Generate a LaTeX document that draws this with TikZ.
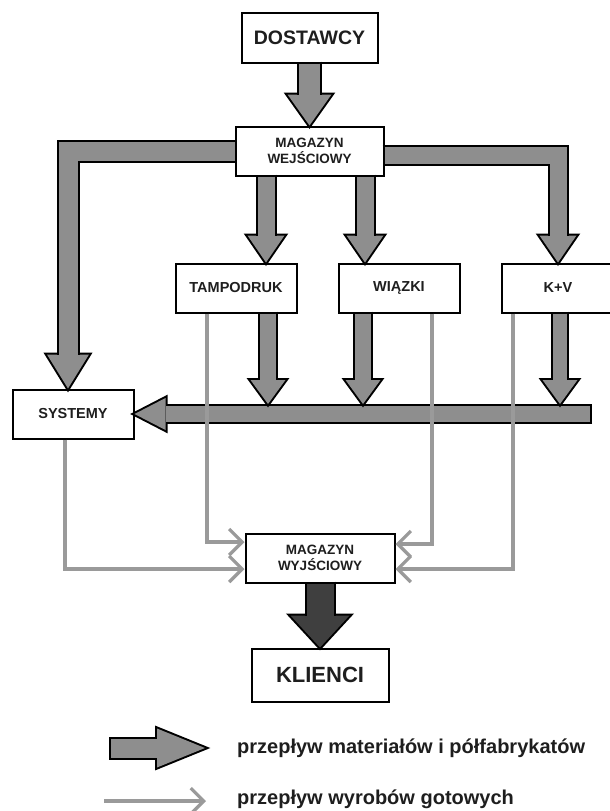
\documentclass[tikz,border=0pt]{standalone}
\usepackage{fontspec}
\setmainfont{Liberation Sans}
\usetikzlibrary{arrows.meta,positioning}

\definecolor{flowgray}{HTML}{8E8E8E}
\definecolor{flowdark}{HTML}{3F3F3F}
\definecolor{prodgray}{HTML}{9A9A9A}
\definecolor{inkgray}{HTML}{1E1E1E}

% heads of the block arrows: tip, half width, length
\newcommand{\headS}[4][mathead]{\path[#1] #2 -- ++(-#3,-#4) -- ++(2*#3,0) -- cycle;}
\newcommand{\headW}[4][mathead]{\path[#1] #2 -- ++(#4,-#3) -- ++(0,2*#3) -- cycle;}
\newcommand{\headE}[4][mathead]{\path[#1] #2 -- ++(-#4,-#3) -- ++(0,2*#3) -- cycle;}

\tikzset{
  box/.style={draw=black, line width=2pt, fill=white, inner sep=0pt, text=inkgray, align=center},
  bigbox/.style={box, font=\bfseries\fontsize{19.5}{22}\selectfont},
  smallbox/.style={box, font=\bfseries\fontsize{14.5}{16}\selectfont},
  storebox/.style={box, font=\bfseries\fontsize{13.5}{15.5}\selectfont},
  legtext/.style={inner sep=0pt, text=inkgray, font=\bfseries\fontsize{20}{24}\selectfont},
  matshaft/.style={draw=flowgray, line width=#1, line join=miter,
    preaction={draw=black, line width=#1+4pt, line join=miter, shorten <=-2pt}},
  matshaft/.default=17pt,
  darkshaft/.style={draw=flowdark, line width=#1, line join=miter,
    preaction={draw=black, line width=#1+4pt, line join=miter, shorten <=-2pt}},
  mathead/.style={fill=flowgray, preaction={draw=black, line width=4pt, line join=miter}},
  darkhead/.style={fill=flowdark, preaction={draw=black, line width=4pt, line join=miter}},
  prodflow/.style={draw=prodgray, line width=3.2pt, -{Straight Barb[length=13pt,width=26pt]}}
}

\begin{document}
\begin{tikzpicture}[x=1pt, y=-1pt]
  \useasboundingbox (0,0) rectangle (610,811);

  \node[bigbox, minimum width=136pt, minimum height=50pt] (dost) at (309.5,37.5) {DOSTAWCY};
  \node[storebox, minimum width=148pt, minimum height=49pt] (magwej) at (309.5,151) {MAGAZYN\\WEJŚCIOWY};
  \node[smallbox, minimum width=121pt, minimum height=49pt] (tampo) at (236,288) {TAMPODRUK};
  \node[smallbox, minimum width=121pt, minimum height=49pt] (wiazki) [right=40pt of tampo] {WIĄZKI};
  \node[smallbox, minimum width=113pt, minimum height=49pt] (kv) [right=40pt of wiazki] {K+V};
  \node[smallbox, minimum width=121pt, minimum height=49pt] (syst) at (73,414) {SYSTEMY};
  \node[storebox, minimum width=149pt, minimum height=49pt] (magwyj) at (320,558) {MAGAZYN\\WYJŚCIOWY};
  \node[bigbox, minimum width=137pt, minimum height=53pt, font=\bfseries\fontsize{22}{24}\selectfont] (klienci) at (320,675) {KLIENCI};

  \coordinate (bandend) at (590,414);
  \coordinate (bandtop) at (590,404);

  % materials
  \headS{(magwej.north)}{22}{31}
  \draw[matshaft=21pt] (dost.south) -- ([yshift=31pt]magwej.north);

  \headS{([xshift=30pt]tampo.north)}{18.5}{27}
  \draw[matshaft] ([xshift=30pt]tampo.north |- magwej.south) -- ([xshift=30pt,yshift=27pt]tampo.north);
  \headS{([xshift=-34pt]wiazki.north)}{18.5}{27}
  \draw[matshaft] ([xshift=-34pt]wiazki.north |- magwej.south) -- ([xshift=-34pt,yshift=27pt]wiazki.north);
  \headS{(kv.north)}{18.5}{27}
  \draw[matshaft] ([yshift=-4.5pt]magwej.east) -| ([yshift=27pt]kv.north);
  \headS{([xshift=-5pt]syst.north)}{21}{34}
  \draw[matshaft=19pt] (magwej.west) -| ([xshift=-5pt,yshift=34pt]syst.north);

  \headW{(syst.east)}{16}{31}
  \draw[matshaft=16pt] (bandend) -- ([xshift=31pt]syst.east);
  \headS{([xshift=32pt]tampo.south |- bandtop)}{17.5}{24}
  \draw[matshaft=16pt] ([xshift=32pt]tampo.south) -- ([xshift=32pt,yshift=24pt]tampo.south |- bandtop);
  \headS{([xshift=-36pt]wiazki.south |- bandtop)}{17.5}{24}
  \draw[matshaft=16pt] ([xshift=-36pt]wiazki.south) -- ([xshift=-36pt,yshift=24pt]wiazki.south |- bandtop);
  \headS{([xshift=2pt]kv.south |- bandtop)}{17.5}{24}
  \draw[matshaft=14pt] ([xshift=2pt]kv.south) -- ([xshift=2pt,yshift=24pt]kv.south |- bandtop);

  \headS[darkhead]{(klienci.north)}{29.5}{32}
  \draw[darkshaft=27pt] (magwyj.south) -- ([yshift=32pt]klienci.north);

  % finished goods
  \draw[prodflow] ([xshift=-29pt]tampo.south) |- ([yshift=16pt]magwyj.west);
  \draw[prodflow] ([xshift=-8pt]syst.south) |- ([yshift=-11pt]magwyj.west);
  \draw[prodflow] ([xshift=33pt]wiazki.south) |- ([yshift=14pt]magwyj.east);
  \draw[prodflow] ([xshift=-45pt]kv.south) |- ([yshift=-11pt]magwyj.east);

  % legend
  \node[legtext, anchor=west] (legmat) at (237,748) {przepływ materiałów i półfabrykatów};
  \node[legtext, anchor=west] (legprod) at (237,799) {przepływ wyrobów gotowych};
  \coordinate (legmattail) at (111,748);
  \coordinate (legmattip) at (205,748);
  \coordinate (legprodtail) at (104,801);
  \coordinate (legprodtip) at (206,801);
  \headE{(legmattip)}{19.5}{48}
  \draw[matshaft=19pt] (legmattail) -- ([xshift=-48pt]legmattip);
  \draw[prodflow] (legprodtail) -- (legprodtip);
\end{tikzpicture}
\end{document}
